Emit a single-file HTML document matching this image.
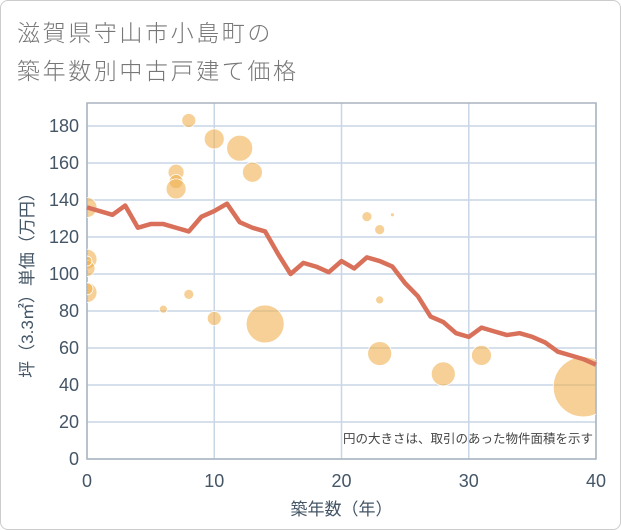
<!DOCTYPE html>
<html><head><meta charset="utf-8"><style>
body{margin:0;background:#fff;font-family:"Liberation Sans","Noto Sans CJK JP",sans-serif}
#frame{position:absolute;left:0;top:0;width:619px;height:528px;border:1px solid #ccc;border-radius:8px}
</style></head><body>
<div id="frame"></div>
<svg id="chart" width="621" height="530" style="position:absolute;left:0;top:0">
<text x="17" y="41" font-size="23" letter-spacing="2.6" fill="#777" font-weight="300">滋賀県守山市小島町の</text>
<text x="17" y="79" font-size="23" letter-spacing="2.6" fill="#777" font-weight="300">築年数別中古戸建て価格</text>
</svg>
<script>
const yearsLine=[0,2,3,4,5,6,7,8,9,10,11,12,13,14,15,16,17,18,19,20,21,22,23,24,25,26,27,28,29,30,31,32,33,34,35,36,37,38,39,40];
const priceLine=[136,132,137,125,127,127,125,123,131,134,138,128,125,123,111,100,106,104,101,107,103,109,107,104,95,88,77,74,68,66,71,69,67,68,66,63,58,56,54,51];
const bubbleYears=[0,0,0,0,0,0,6,7,7,7,8,8,10,10,12,13,14,22,23,24,23,23,28,31,39];
const bubblePrices=[136,108,103,107,90,92,81,155,150,146,183,89,173,76,168,155,73,131,124,132,86,57,46,56,39];
const bubbleSizes=[10,10,8,5,10,6,4,8,7,10,7,5,10,7,13,10,19,5,5,2,4,12,12,10,30];
const xTicks=[0,10,20,30,40];
const yTicks=[0,20,40,60,80,100,120,140,160,180];
const NS="http://www.w3.org/2000/svg";
const svg=document.getElementById('chart');
const L=87,R=596,T=103,B=459;
const xs=v=>L+(v/40)*(R-L);
const ys=v=>B-v*1.85;
function mk(t,a){const e=document.createElementNS(NS,t);for(const k in a)e.setAttribute(k,a[k]);svg.appendChild(e);return e;}
const clip=mk('clipPath',{id:'pc'});
const cr=document.createElementNS(NS,'rect');cr.setAttribute('x',L);cr.setAttribute('y',T);cr.setAttribute('width',R-L);cr.setAttribute('height',B-T);clip.appendChild(cr);
yTicks.forEach(v=>{
 const g=mk('line',{x1:L,x2:R,y1:ys(v),y2:ys(v),stroke:'#c8d6e6','stroke-width':1.5});
 
 
 const t=mk('text',{x:L-8,y:ys(v)+6,'text-anchor':'end','font-size':18,fill:'#445566'});
 t.textContent=v;
 
 
});
xTicks.forEach(v=>{
 const g=mk('line',{x1:xs(v),x2:xs(v),y1:T,y2:B,stroke:'#c8d6e6','stroke-width':1.5});
 
 
 const t=mk('text',{x:xs(v),y:B+28,'text-anchor':'middle','font-size':18,fill:'#445566'});
 t.textContent=v;
 
 
});
const box=mk('rect',{x:L,y:T,width:R-L,height:B-T,fill:'none',stroke:'#aab4c0','stroke-width':1.5});


bubbleYears.forEach((yr,i)=>{
 const c=mk('circle',{cx:xs(yr),cy:ys(bubblePrices[i]),r:bubbleSizes[i],fill:'#f0b050','fill-opacity':0.6,stroke:'#fff','stroke-width':0.8,'clip-path':'url(#pc)'});
 
 
});
const pl=mk('polyline',{points:yearsLine.map((y,i)=>xs(y)+','+ys(priceLine[i])).join(' '),fill:'none',stroke:'#d9705a','stroke-width':4.5,'stroke-linejoin':'round'});


const note=mk('text',{x:R-3,y:B-16,'text-anchor':'end','font-size':12.5,fill:'#444'});
note.textContent='円の大きさは、取引のあった物件面積を示す';


const xt=mk('text',{x:(L+R)/2,y:B+56,'text-anchor':'middle','font-size':17,fill:'#445566'});
xt.textContent='築年数（年）';


const yt=mk('text',{x:0,y:0,'text-anchor':'middle','font-size':17,fill:'#445566',transform:`translate(33,${(T+B)/2}) rotate(-90)`});
yt.textContent='坪（3.3㎡）単価（万円）';


</script>
</body></html>
